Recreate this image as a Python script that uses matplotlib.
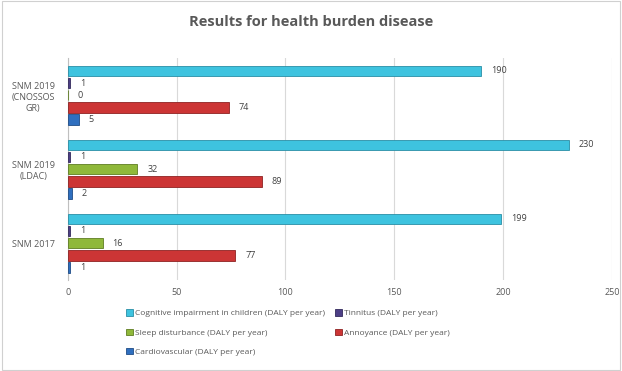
import matplotlib.pyplot as plt
import numpy as np
from matplotlib.patches import Rectangle

plt.rcParams['font.family'] = ['Open Sans', 'DejaVu Sans']

scenarios = ['SNM 2017', 'SNM 2019\n(LDAC)', 'SNM 2019\n(CNOSSOS\nGR)']
series = ['Cognitive impairment in children (DALY per year)',
          'Tinnitus (DALY per year)',
          'Sleep disturbance (DALY per year)',
          'Annoyance (DALY per year)',
          'Cardiovascular (DALY per year)']
cognitive = [199, 230, 190]
tinnitus = [1, 1, 1]
sleep = [16, 32, 0]
annoyance = [77, 89, 74]
cardio = [1, 2, 5]
colors = ['#3ec3df', '#4d3f86', '#8fb83a', '#cc3535', '#2f6fbf']
edges = ['#2a8ea6', '#332a5c', '#5f7d22', '#8e2222', '#1f4c86']

values = [cognitive, tinnitus, sleep, annoyance, cardio]

fig = plt.figure(figsize=(6.22, 3.71), dpi=100)
ax = fig.add_axes([0.109, 0.245, 0.875, 0.598])

y = np.arange(len(scenarios))
step = 0.165
h = 0.14
for i, vals in enumerate(values):
    off = (2 - i) * step
    bars = ax.barh(y + off, vals, height=h, color=colors[i], edgecolor=edges[i],
                   linewidth=0.6, label=series[i], zorder=3)
    for b, v in zip(bars, vals):
        ax.text(v + 4.5, b.get_y() + b.get_height() / 2, str(v), va='center',
                ha='left', fontsize=6.5, color='#404040')

ax.set_xlim(0, 250)
ax.set_ylim(-0.5, 2.5)
ax.set_xticks([0, 50, 100, 150, 200, 250])
ax.set_yticks(y)
ax.set_yticklabels(scenarios, fontsize=6.5, color='#595959', linespacing=1.3,
                   ha='center')
ax.tick_params(axis='x', labelsize=6.5, colors='#595959', length=0, pad=6)
ax.tick_params(axis='y', length=0, pad=25)
ax.grid(axis='x', color='#d9d9d9', linewidth=0.8, zorder=0)
for s in ['top', 'right', 'bottom']:
    ax.spines[s].set_visible(False)
ax.spines['left'].set_color('#bfbfbf')

fig.text(0.5, 0.94, 'Results for health burden disease', ha='center', va='center',
         fontsize=10.5, fontweight='bold', color='#595959')

handles, labels = ax.get_legend_handles_labels()
order = [0, 2, 4, 1, 3]
leg = fig.legend([handles[k] for k in order], [labels[k] for k in order],
                 loc='upper left', bbox_to_anchor=(0.197, 0.175), ncol=2,
                 frameon=False, fontsize=6, handlelength=0.8, handleheight=0.8,
                 handletextpad=0.3, columnspacing=1.2, labelspacing=1.35,
                 borderaxespad=0)
for t in leg.get_texts():
    t.set_color('#595959')

fig.patches.append(Rectangle((0.003, 0.003), 0.994, 0.994, transform=fig.transFigure,
                             fill=False, edgecolor='#d0d0d0', linewidth=0.8))

fig.savefig('out.png', dpi=100)
